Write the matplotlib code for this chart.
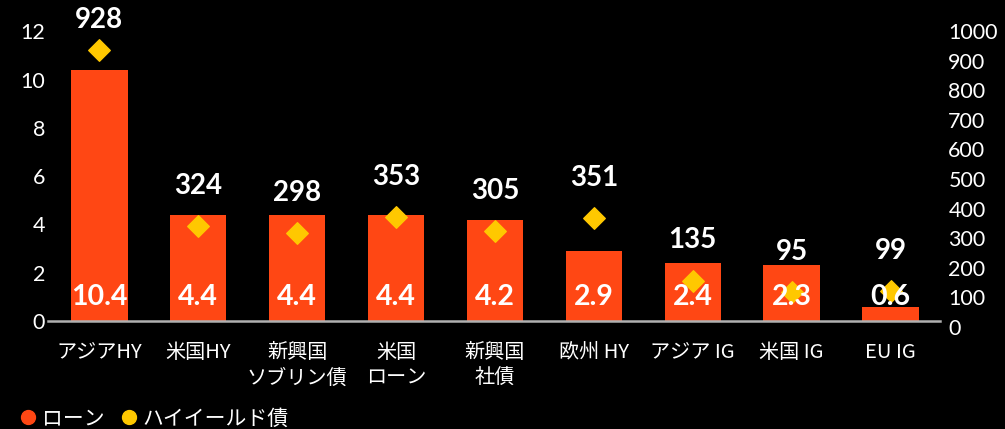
import numpy as np
import matplotlib
matplotlib.use("Agg")
import matplotlib.pyplot as plt
from matplotlib.lines import Line2D

plt.rcParams['font.family'] = ['Lato', 'Noto Sans CJK JP', 'DejaVu Sans']

# data
categories = ["アジアHY", "米国HY", "新興国\nソブリン債", "米国\nローン", "新興国\n社債",
              "欧州 HY", "アジア IG", "米国 IG", "EU IG"]
loans = [10.4, 4.4, 4.4, 4.4, 4.2, 2.9, 2.4, 2.3, 0.6]
high_yield = [928, 324, 298, 353, 305, 351, 135, 95, 99]
left_ticks = [0, 2, 4, 6, 8, 10, 12]
right_ticks = [0, 100, 200, 300, 400, 500, 600, 700, 800, 900, 1000]
legend_labels = ["ローン", "ハイイールド債"]

BAR_COLOR = "#FF4714"
DIAMOND_COLOR = "#FFC800"
BG = "black"
W, H = 1005, 429

fig = plt.figure(figsize=(W / 100, H / 100), dpi=100, facecolor=BG)
ax = fig.add_axes([48 / W, (H - 321) / H, (940 - 48) / W, 291 / H])
ax.set_facecolor(BG)
x = np.arange(len(categories))

ax.bar(x, loans, width=0.57, color=BAR_COLOR, zorder=2)
ax.set_xlim(-0.52, len(categories) - 0.5)
ax.set_ylim(0, 12.05)
ax.set_yticks(left_ticks)
ax.set_xticks(x)
ax.set_xticklabels(categories, family=['Noto Sans CJK JP', 'DejaVu Sans'], fontsize=14.5,
                   color="white", linespacing=1.32)
ax.tick_params(axis='x', length=0, pad=15)
ax.tick_params(axis='y', length=0, pad=2, labelsize=15.5, labelcolor="white")
for s in ["top", "left", "right"]:
    ax.spines[s].set_visible(False)
ax.spines["bottom"].set_color("#b0b0b0")
ax.spines["bottom"].set_linewidth(1.8)
ax.spines["bottom"].set_zorder(3)

# right-hand scale (labels only), its own slightly taller frame
ax3 = fig.add_axes([48 / W, (H - 327) / H, (940 - 48) / W, 296 / H])
ax3.patch.set_visible(False)
ax3.set_ylim(0, 1000)
ax3.set_yticks(right_ticks)
ax3.set_xticks([])
ax3.yaxis.tick_right()
ax3.tick_params(axis='y', length=0, pad=6, labelsize=15.5, labelcolor="white")
for s in ax3.spines.values():
    s.set_visible(False)

# high-yield diamonds
ax2 = ax.twinx()
ax2.set_ylim(-4, 997)
ax2.set_yticks([])
for s in ax2.spines.values():
    s.set_visible(False)
ax2.scatter(x, high_yield, marker="D", s=120, color=DIAMOND_COLOR, zorder=4, clip_on=False)
for xi, v in zip(x, high_yield):
    ax2.text(xi, min(v + 138, 1030), str(v), ha="center", va="center", color="white",
             fontsize=20, fontweight="bold", clip_on=False)

for xi, v in zip(x, loans):
    ax2.text(xi, 1.0, f"{v:.1f}", transform=ax.transData, ha="center", va="center",
             color="white", fontsize=20.5, fontweight="bold", zorder=6)

handles = [Line2D([], [], marker="o", linestyle="none", markersize=10, color=BAR_COLOR),
           Line2D([], [], marker="o", linestyle="none", markersize=10, color=DIAMOND_COLOR)]
leg = fig.legend(handles, legend_labels, loc="lower left", bbox_to_anchor=(-0.001, -0.045),
                 ncol=2, frameon=False, handletextpad=0.15, columnspacing=0.7,
                 handlelength=1.0, prop={'family': ['Noto Sans CJK JP'], 'size': 15})
for t in leg.get_texts():
    t.set_color("white")

fig.savefig("out.png", dpi=100, facecolor=BG)
